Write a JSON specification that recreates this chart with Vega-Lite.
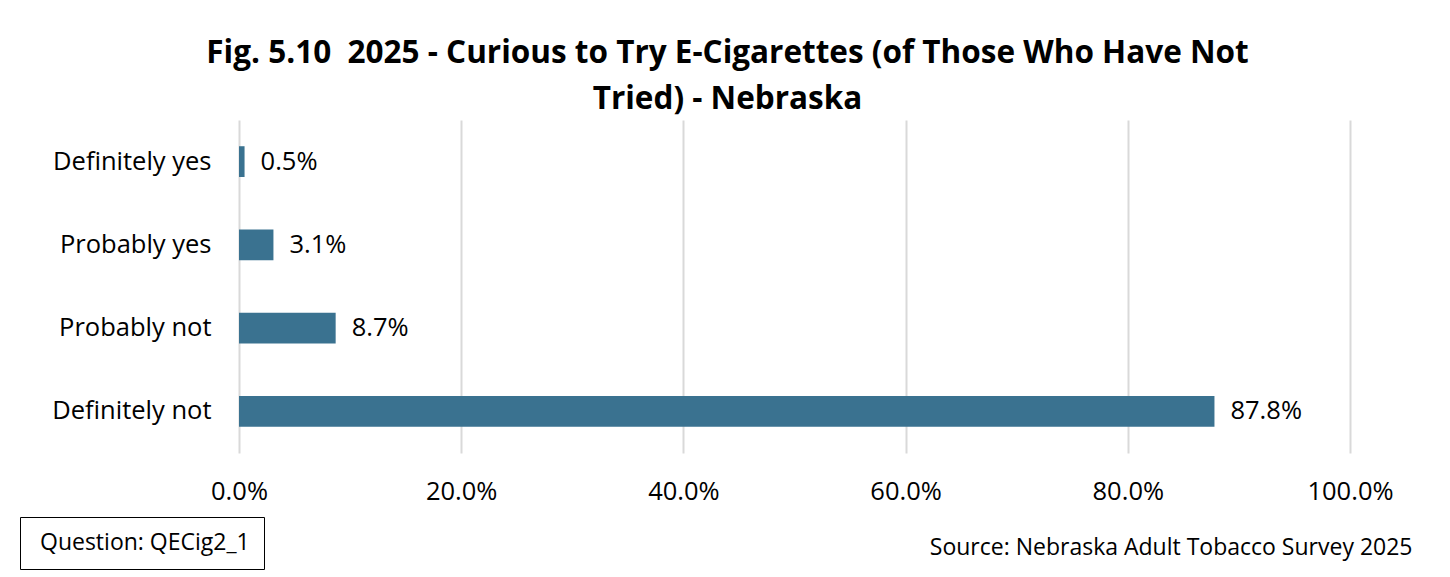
{
  "$schema": "https://vega.github.io/schema/vega-lite/v6.json",
  "autosize": {"type": "none"},
  "width": 1111,
  "height": 333,
  "padding": {"left": 239, "top": 120, "right": 100, "bottom": 124},
  "background": "white",
  "title": {
    "text": ["Fig. 5.10\u00a0 2025 - Curious to Try E-Cigarettes (of Those Who Have Not", "Tried) - Nebraska"],
    "font": "Open Sans",
    "fontSize": 31.5,
    "fontWeight": "bold",
    "color": "#000000",
    "anchor": "middle",
    "dx": -67,
    "lineHeight": 46,
    "offset": 5
  },
  "data": {
    "values": [
      {"response": "Definitely yes", "pct": 0.005},
      {"response": "Probably yes", "pct": 0.031},
      {"response": "Probably not", "pct": 0.087},
      {"response": "Definitely not", "pct": 0.878}
    ]
  },
  "encoding": {
    "y": {
      "field": "response",
      "type": "nominal",
      "sort": ["Definitely yes", "Probably yes", "Probably not", "Definitely not"],
      "scale": {"paddingInner": 0.63, "paddingOuter": 0.315},
      "axis": {
        "title": null,
        "domain": false,
        "ticks": false,
        "labelFont": "Open Sans",
        "labelFontSize": 25.5,
        "labelColor": "#000000",
        "labelPadding": 28,
        "labelLimit": 300
      }
    },
    "x": {
      "field": "pct",
      "type": "quantitative",
      "scale": {"domain": [0, 1], "nice": false},
      "axis": {
        "format": ".1%",
        "values": [0, 0.2, 0.4, 0.6, 0.8, 1],
        "labelFlush": false,
        "domain": false,
        "ticks": false,
        "grid": true,
        "gridColor": "#d9d9d9",
        "gridWidth": 2,
        "labelFont": "Open Sans",
        "labelFontSize": 25.5,
        "labelColor": "#000000",
        "labelPadding": 26,
        "title": "Source: Nebraska Adult Tobacco Survey 2025",
        "titleFont": "Open Sans",
        "titleFontSize": 23,
        "titleFontWeight": "normal",
        "titleColor": "#000000",
        "titleAnchor": "end",
        "titleAlign": "right",
        "titleBaseline": "alphabetic",
        "titleX": 1173,
        "titleY": 101
      }
    }
  },
  "layer": [
    {
      "mark": {"type": "bar"},
      "encoding": {
        "color": {
          "datum": "Question: QECig2_1",
          "scale": {"range": ["#3A7290"]},
          "legend": {
            "title": null,
            "orient": "none",
            "legendX": -219,
            "legendY": 397,
            "strokeColor": "#000000",
            "padding": 14,
            "symbolSize": 0,
            "symbolStrokeWidth": 0,
            "symbolOpacity": 0,
            "labelOffset": -17,
            "labelExpr": "datum.label + '\u00a0\u00a0'",
            "labelFont": "Open Sans",
            "labelFontSize": 23,
            "labelColor": "#000000",
            "labelLimit": 400
          }
        }
      }
    },
    {
      "mark": {"type": "text", "align": "left", "baseline": "middle", "dx": 16, "font": "Open Sans", "fontSize": 25.5, "color": "#000000"},
      "encoding": {
        "text": {"field": "pct", "type": "quantitative", "format": ".1%"}
      }
    }
  ],
  "config": {
    "view": {"stroke": null}
  }
}
